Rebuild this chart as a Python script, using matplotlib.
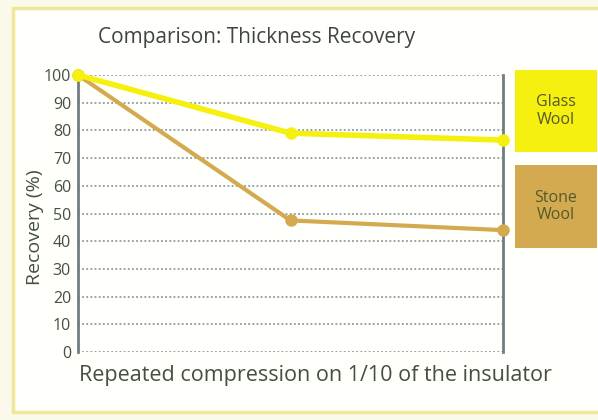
import matplotlib
matplotlib.use("Agg")
import matplotlib.pyplot as plt
from matplotlib.patches import Rectangle

plt.rcParams["font.family"] = ["Open Sans", "DejaVu Sans"]

# data
steps = [0, 1, 2]
glass_wool = [100, 79, 76.5]
stone_wool = [100, 47.5, 44]
series_names = ["Glass\nWool", "Stone\nWool"]
y_ticks = list(range(0, 101, 10))

GLASS = "#f5f00f"
STONE = "#d4aa50"
TEXT = "#44503f"

fig = plt.figure(figsize=(5.98, 4.20), dpi=100)
fig.patch.set_facecolor("#fbf9ea")

# framed panel
panel = Rectangle((13 / 598, 8 / 420), 1 - 13 / 598 + 0.01, 1 - 16 / 420,
                  transform=fig.transFigure, facecolor="#fffffc",
                  edgecolor="#efe79a", linewidth=2.5, zorder=-1)
fig.patches.append(panel)

ax = fig.add_axes([78 / 598, 1 - 352 / 420, (503 - 78) / 598, (352 - 75) / 420])
ax.set_facecolor("none")
ax.set_zorder(1)

ax.plot(steps, glass_wool, color=GLASS, lw=4, marker="o", ms=8,
        solid_capstyle="round", clip_on=False, zorder=4)
ax.plot(steps, stone_wool, color=STONE, lw=3, marker="o", ms=8,
        solid_capstyle="round", clip_on=False, zorder=3)

ax.set_xlim(0, 2)
ax.set_ylim(0, 100)
ax.set_xticks([])
ax.set_yticks(y_ticks)
ax.tick_params(axis="y", length=0, pad=5, labelsize=11.5, labelcolor=TEXT)
ax.yaxis.grid(True, linestyle=(0, (1, 1.3)), linewidth=1.3, color="#8c9aa2")
ax.set_axisbelow(True)

for side in ["top", "bottom"]:
    ax.spines[side].set_visible(False)
for side in ["left", "right"]:
    ax.spines[side].set_color("#6f7e80")
    ax.spines[side].set_linewidth(2)
ax.spines["left"].set_bounds(0, 98)

ax.set_ylabel("Recovery (%)", fontsize=14, color=TEXT)
ax.yaxis.set_label_coords(-0.08, 0.45)

fig.text(257 / 598, 1 - 37 / 420, "Comparison: Thickness Recovery",
         ha="center", va="center", fontsize=15, color="#3f4640")
fig.text(315 / 598, 1 - 375 / 420, "Repeated compression on 1/10 of the insulator",
         ha="center", va="center", fontsize=15.5, color=TEXT)

# coloured key boxes on the right
for name, color, top, bottom in [(series_names[0], GLASS, 70, 152),
                                 (series_names[1], STONE, 165, 248)]:
    box = Rectangle((515 / 598, 1 - bottom / 420), 82 / 598, (bottom - top) / 420,
                    transform=fig.transFigure, facecolor=color, edgecolor="none", zorder=2)
    fig.patches.append(box)
    fig.text(556 / 598, 1 - (top + bottom) / 2 / 420, name, ha="center", va="center",
             fontsize=11.5, color="#55592a", linespacing=1.15)

fig.savefig("out.png", dpi=100, facecolor=fig.get_facecolor())
